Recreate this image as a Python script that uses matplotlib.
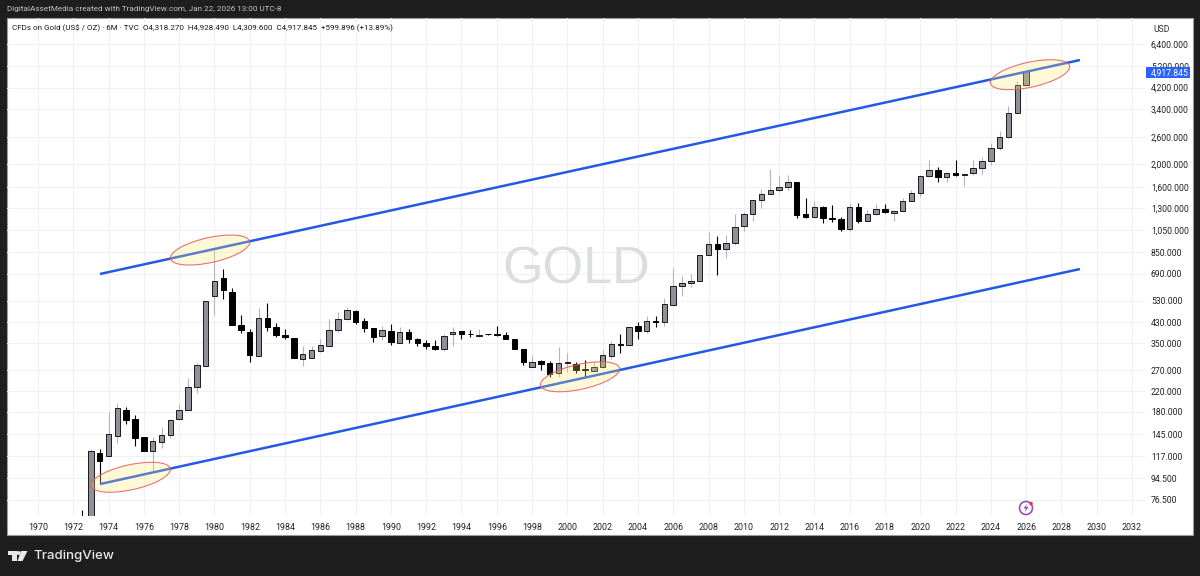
import numpy as np
import matplotlib
matplotlib.use("Agg")
import matplotlib.pyplot as plt
from matplotlib.patches import Rectangle, Ellipse, Circle, Polygon
from matplotlib.transforms import IdentityTransform

plt.rcParams['font.family'] = ['Roboto', 'DejaVu Sans']

first_period = 1972.0
opens = [65.6,65.7,64.5,120.8,116.6,142.4,183,168,140.7,122.8,134,143,168,183,228,282,
         557,661,578,420,391,310,446,412,378,370,302,305,325,340,398,442,479,435,406,375,
         396,353,392,366,352,341,331,383,393,385,375,385,383,379,364,332,279,294,288,262,
         288,287,273,268,277,311,347,345,415,393,435,432,507,610,630,643,830,917,875,925,
         1090,1235,1405,1500,1548,1600,1675,1225,1200,1322,1184,1170,1060,1322,1150,1230,
         1292,1240,1265,1395,1515,1780,1890,1770,1825,1805,1825,1920,2065,2330,2600,3300,4318.27]
highs = [65.7,69.5,125,125.6,180,195.6,189,174,140.7,141,155,168,195,249,288,528,
         867,723,598,463,401,496,518,425,402,370,340,340,364,442,476,497,484,446,408,415,
         422,411,402,370,362,360,385,412,396,398,402,385,415,392,366,333,313,297,295,338,
         320,291,298,293,328,358,385,415,430,458,456,543,725,675,690,830,1030,990,1005,1225,
         1260,1405,1570,1900,1780,1790,1680,1435,1390,1335,1345,1190,1375,1375,1280,1360,
         1360,1275,1435,1555,1800,2075,1950,1860,2075,1835,2080,2140,2450,2750,3500,4500,4928.49]
lows = [65.3,65.3,64,89.9,116.6,133.4,160,129,122.8,100,127,139.6,167,183,215.5,282,
        460,537,420,386,293,310,395,372,365,305,281,304,322,340,390,440,422,390,356,360,
        346,353,351,340,333,329,326,342,367,372,372,381,377,364,331,285,277,270,253,252,
        265,263,252,268,276,300,320,345,367,386,411,415,507,557,605,643,830,682,800,915,
        1040,1153,1300,1495,1530,1555,1180,1180,1182,1130,1142,1045,1046,1128,1150,1215,
        1240,1153,1265,1395,1450,1760,1680,1680,1785,1615,1805,1810,1985,2290,2580,3280,4309.6]
closes = [65.5,65.3,123,111.7,144.8,186,166,140,122.8,135.7,143.4,167,183,228,284,528,
          643,586,420,398,313,446,412,380,371,305,315,327,344,397,443,483,430,406,372,398,
          354,392,366,352,340,331,376,391,383,383,381,383,379,364,331,293,292,287,260,290,
          291,270,270,278,312,347,345,411,393,434,432,512,612,632,643,829,917,875,925,1085,
          1233,1405,1500,1550,1600,1675,1220,1200,1320,1185,1172,1060,1320,1150,1230,1292,
          1250,1265,1395,1515,1780,1890,1770,1825,1805,1820,1920,2065,2330,2590,3290,4318,4917.845]

year_ticks = list(range(1970, 2034, 2))
price_ticks = [76.5, 94.5, 117, 145, 180, 220, 270, 350, 430, 530, 690, 850,
               1050, 1300, 1600, 2000, 2600, 3400, 4200, 5200, 6400]
last_price = 4917.845

channel_years = [1973.51, 2029.05]
upper_channel = [687, 5496]
lower_channel = [89.2, 721]

ellipse_years = [1975.25, 1979.75, 2000.72, 2026.22]
ellipse_prices = [95.3, 867, 253, 4765]

W, H = 1200, 576
BG = '#1e1e1e'
fig = plt.figure(figsize=(W / 100, H / 100), dpi=100, facecolor=BG)

def fx(px):
    return px / W

def fy(py):
    return 1 - py / H

# white chart panel
fig.add_artist(Rectangle((fx(7), fy(535)), fx(1193) - fx(7), fy(18) - fy(535),
                         transform=fig.transFigure, facecolor='white',
                         edgecolor='#9a9a9a', lw=0.8, zorder=0))

ax = fig.add_axes([fx(7), fy(516), fx(1145) - fx(7), fy(18) - fy(516)])
ax.patch.set_alpha(0)
ax.set_yscale('log')
ax.set_xlim(1968.243, 2032.737)
ax.set_ylim(65.4, 8267)
ax.set_xticks(year_ticks)
ax.set_xticklabels([str(y) for y in year_ticks])
ax.set_yticks(price_ticks)
ax.set_yticklabels([f'{p:,.3f}' for p in price_ticks])
ax.minorticks_off()
ax.yaxis.tick_right()
ax.tick_params(axis='x', length=0, pad=5, labelsize=6.4, labelcolor='#1f222b')
ax.tick_params(axis='y', length=0, pad=4.3, labelsize=6.2, labelcolor='#1f222b')
for s in ax.spines.values():
    s.set_visible(False)
ax.grid(True, color='#f0f1f4', lw=0.8, zorder=0)
ax.set_axisbelow(True)

# watermark
ax.text(0.5, 0.494, 'GOLD', transform=ax.transAxes, ha='center', va='center',
        family=['Liberation Sans', 'DejaVu Sans'], fontsize=37.5, color='#dcdddf', zorder=1)

# candles
t = first_period + 0.5 * np.arange(len(opens))
o, h, l, c = map(np.array, (opens, highs, lows, closes))
up = c >= o
ax.vlines(t[up], l[up], h[up], color='#b2b5be', lw=0.8, zorder=2)
ax.vlines(t[~up], l[~up], h[~up], color='#000000', lw=0.8, zorder=2)
ax.bar(t[up], (c - o)[up], bottom=o[up], width=0.31, color='#8f909a',
       edgecolor='#1a1a1a', lw=0.7, zorder=3)
ax.bar(t[~up], (o - c)[~up], bottom=c[~up], width=0.31, color='#000000',
       edgecolor='#000000', lw=0.7, zorder=3)

# channel
ax.plot(channel_years, upper_channel, color='#2459e6', lw=1.8, zorder=4, solid_capstyle='butt')
ax.plot(channel_years, lower_channel, color='#2459e6', lw=1.8, zorder=4, solid_capstyle='butt')

# ellipses, centred on data and sized in screen pixels
fig.canvas.draw()
for yr, pr in zip(ellipse_years, ellipse_prices):
    cx, cy = ax.transData.transform((yr, pr))
    e = Ellipse((cx, cy), 81, 25, angle=12.4, transform=IdentityTransform(),
                facecolor=(1.0, 0.92, 0.42, 0.26), edgecolor=(0.90, 0.35, 0.38, 0.85),
                lw=0.8, zorder=5)
    ax.add_artist(e)

# last-price tag
ty = ax.transData.transform((2000, last_price))[1]
tag_py = H - ty + 1.5
fig.add_artist(Rectangle((fx(1145.7), fy(tag_py + 5.5)), fx(44.5), 11 / H,
                         transform=fig.transFigure, facecolor='#2962ff', edgecolor='none', zorder=6))
fig.text(fx(1151), fy(tag_py), f'{last_price:,.3f}', color='white', fontsize=6.2,
         va='center', ha='left', zorder=7)

# header texts
fig.text(fx(7), fy(9.5), 'DigitalAssetMedia created with TradingView.com, Jan 22, 2026 13:00 UTC-8',
         color='#c4c4c4', fontsize=5.85, va='center', ha='left')
fig.text(fx(12), fy(28), 'CFDs on Gold (US$ / OZ) · 6M · TVC  O4,318.270  H4,928.490  L4,309.600  C4,917.845  +599.896 (+13.89%)',
         color='#131722', fontsize=5.8, va='center', ha='left')
fig.text(fx(1153), fy(30), 'USD', color='#2a2e39', fontsize=6.2, va='center', ha='left')

# lightning badge
fig.add_artist(Circle((1026, H - 508), 6.5, transform=IdentityTransform(), facecolor='white',
                      edgecolor='#9c4fb8', lw=1.2, zorder=6))
fig.add_artist(Circle((1031, H - 503.5), 1.8, transform=IdentityTransform(), facecolor='#e53935',
                      edgecolor='none', zorder=7))
bolt = [(1027.5, 503.5), (1023.5, 508.5), (1026, 508.5), (1024.5, 512.5), (1028.5, 507), (1026, 507)]
fig.add_artist(Polygon([(x, H - y) for x, y in bolt], closed=True, transform=IdentityTransform(),
                       facecolor='#8e44ad', edgecolor='none', zorder=7))

# TradingView mark and name
logo_t = [(8, 551), (16.5, 551), (16.5, 561), (12, 561), (12, 555), (8, 555)]
logo_v = [(21, 551), (27.5, 551), (22.5, 561), (17.5, 561)]
for shape in (logo_t, logo_v):
    fig.add_artist(Polygon([(x, H - y) for x, y in shape], closed=True, transform=IdentityTransform(),
                           facecolor='#e8e8e8', edgecolor='none'))
fig.add_artist(Circle((18.5, H - 553), 2, transform=IdentityTransform(), facecolor='#e8e8e8', edgecolor='none'))
fig.text(fx(33), fy(556), 'TradingView', color='#e8e8e8', fontsize=9.6, weight='medium',
         family=['Inter', 'DejaVu Sans'], va='center', ha='left')

fig.savefig('out.png', dpi=100, facecolor=BG)
